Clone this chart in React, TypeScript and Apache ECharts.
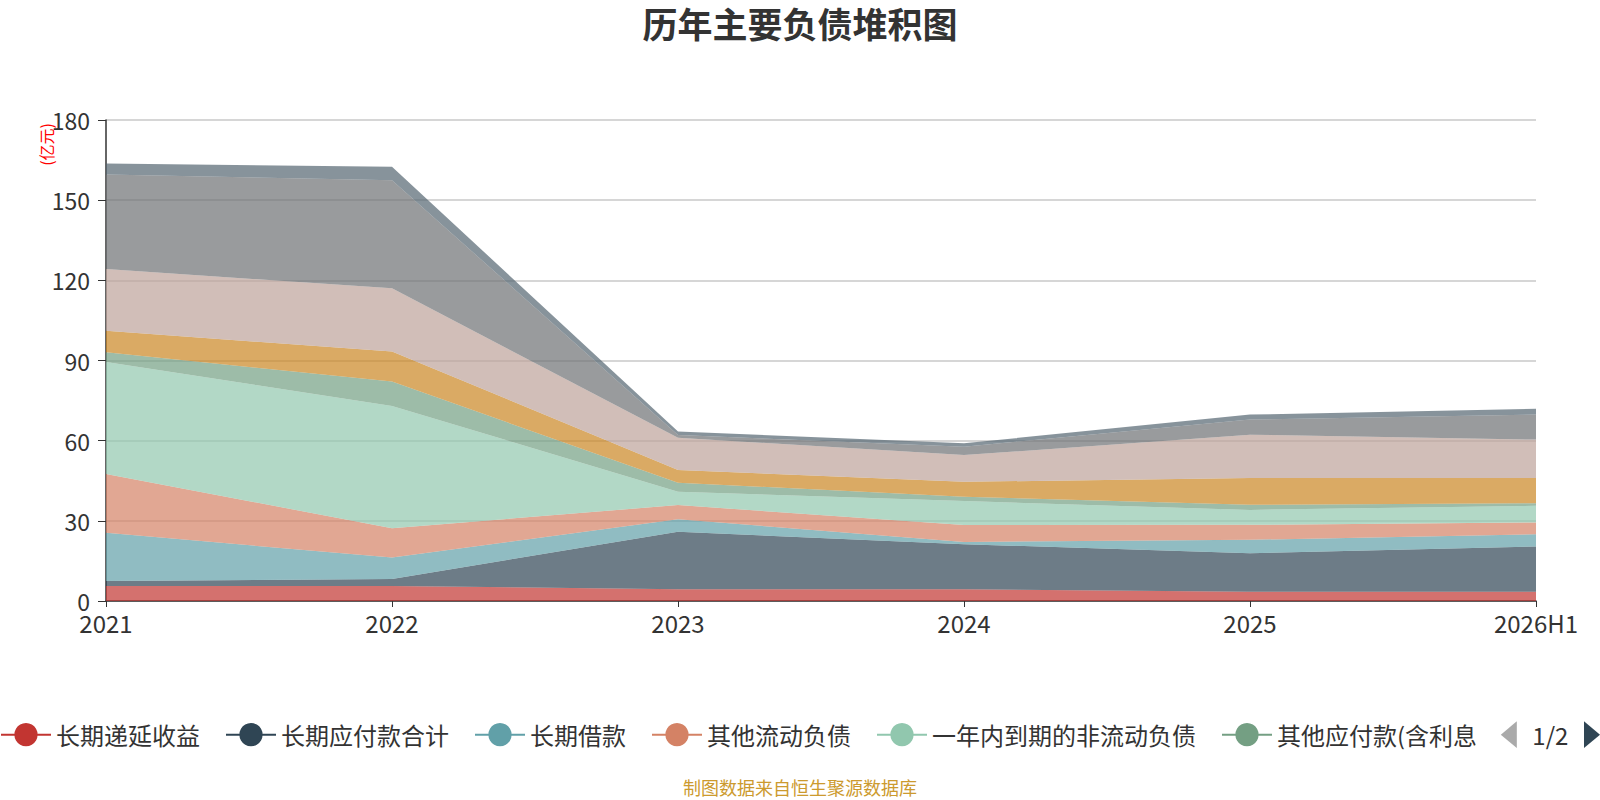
import React, { useEffect, useRef } from 'react';
import * as echarts from 'echarts';

const categories = ['2021', '2022', '2023', '2024', '2025', '2026H1'];
const yTicks = { min: 0, max: 180, interval: 30 };

const seriesNames = [
  '长期递延收益',
  '长期应付款合计',
  '长期借款',
  '其他流动负债',
  '一年内到期的非流动负债',
  '其他应付款(含利息和股利)',
  '合同负债',
  '应付票据及应付账款',
  '短期借款',
  '应交税费',
];

const deferredIncome = [5.6, 5.6, 4.4, 4.4, 3.5, 3.5];
const longTermPayables = [1.9, 2.65, 21.5, 16.85, 14.4, 16.9];
const longTermLoans = [18.0, 8.0, 4.7, 0.85, 5.0, 4.6];
const otherCurrentLiab = [22.0, 11.0, 5.3, 6.3, 5.6, 4.4];
const currentPortionNonCurrent = [41.9, 45.75, 5.0, 9.0, 5.6, 6.2];
const otherPayables = [3.7, 9.1, 3.35, 1.6, 1.9, 1.0];
const contractLiab = [8.0, 11.3, 4.75, 5.6, 10.0, 9.4];
const notesAccountsPayable = [23.15, 23.6, 12.1, 10.0, 16.25, 14.4];
const shortTermLoans = [35.35, 40.5, 1.0, 3.15, 5.65, 9.35];
const taxesPayable = [4.15, 5.0, 1.3, 1.25, 1.85, 2.15];

const seriesValues = [
  deferredIncome,
  longTermPayables,
  longTermLoans,
  otherCurrentLiab,
  currentPortionNonCurrent,
  otherPayables,
  contractLiab,
  notesAccountsPayable,
  shortTermLoans,
  taxesPayable,
];

const palette = ['#c23531', '#2f4554', '#61a0a8', '#d48265', '#91c7ae', '#749f83', '#ca8622', '#bda29a', '#6e7074', '#546570'];

const FONT = '"Noto Sans CJK SC", "Noto Sans", sans-serif';

export default function App() {
  const ref = useRef<HTMLDivElement>(null);
  useEffect(() => {
    const chart = echarts.init(ref.current as HTMLDivElement, null, { renderer: 'svg' });
    chart.setOption({
      animation: false,
      backgroundColor: '#fff',
      color: palette,
      textStyle: { fontFamily: FONT },
      title: {
        text: '历年主要负债堆积图',
        left: 'center',
        top: 0,
        textStyle: { fontSize: 35, fontWeight: 'bold', color: '#333', fontFamily: FONT },
      },
      legend: {
        type: 'scroll',
        left: 0,
        right: 0,
        bottom: 47,
        padding: [5, 0, 5, 0],
        itemWidth: 50,
        itemHeight: 29,
        itemGap: 25,
        textStyle: { fontSize: 24, color: '#333', fontFamily: FONT },
        lineStyle: { width: 2 },
        pageIconSize: [16, 30],
        pageIconColor: '#2f4554',
        pageIconInactiveColor: '#aaa',
        pageTextStyle: { fontSize: 24, color: '#333', fontFamily: FONT },
        data: seriesNames,
      },
      grid: { left: 106, right: 64, top: 120, bottom: 199, containLabel: false },
      xAxis: {
        type: 'category',
        boundaryGap: false,
        data: categories,
        axisLine: { show: true, lineStyle: { color: '#333', width: 1.5 } },
        axisTick: { show: true, length: 6, lineStyle: { color: '#333' } },
        axisLabel: { fontSize: 24, color: '#333', margin: 9, fontFamily: FONT },
        splitLine: { show: false },
      },
      yAxis: {
        type: 'value',
        min: yTicks.min,
        max: yTicks.max,
        interval: yTicks.interval,
        axisLine: { show: true, lineStyle: { color: '#333', width: 1.5 } },
        axisTick: { show: true, length: 8, lineStyle: { color: '#333' } },
        axisLabel: { fontSize: 23, color: '#333', margin: 16, fontFamily: FONT },
        splitLine: { show: true, lineStyle: { color: '#c8c8c8', width: 1.5 } },
      },
      graphic: [
        {
          type: 'text',
          x: 46,
          y: 123,
          rotation: Math.PI / 2,
          style: { text: '(亿元)', fill: '#ff0000', font: `16px ${FONT}`, textAlign: 'right', textVerticalAlign: 'middle' },
        },
        {
          type: 'text',
          left: 'center',
          top: 778,
          style: { text: '制图数据来自恒生聚源数据库', fill: '#cc9a2e', font: `18px ${FONT}` },
        },
      ],
      series: seriesNames.map((name, i) => ({
        name,
        type: 'line',
        stack: 'total',
        data: seriesValues[i],
        symbol: 'circle',
        showSymbol: false,
        lineStyle: { width: 0 },
        areaStyle: { opacity: 0.7 },
        itemStyle: { color: palette[i] },
      })),
    });
    return () => chart.dispose();
  }, []);
  return <div ref={ref} style={{ position: 'fixed', left: 0, top: 0, width: 1600, height: 800 }} />;
}
